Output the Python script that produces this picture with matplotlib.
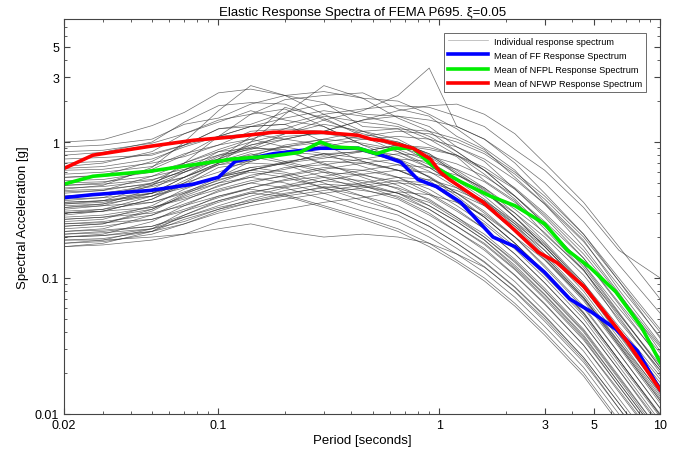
import numpy as np
import matplotlib
matplotlib.use("Agg")
import matplotlib.pyplot as plt
from matplotlib.ticker import FixedLocator, NullFormatter, LogLocator

plt.rcParams['font.family'] = ['Liberation Sans', 'DejaVu Sans']

# periods (s) at which the individual spectra are read
periods = [0.02, 0.03, 0.05, 0.07, 0.1, 0.14, 0.2, 0.3, 0.45, 0.65, 0.9, 1.2, 1.6, 2.2, 3.0, 4.5, 6.5, 10]

# individual response spectra, Sa [g]
c01 = [1.00, 1.04, 1.32, 1.65, 2.30, 2.45, 2.20, 1.95, 1.30, 1.25, 0.95, 0.78, 0.52, 0.37, 0.21, 0.115, 0.048, 0.021]
c02 = [0.92, 0.95, 1.05, 1.35, 1.50, 1.90, 2.20, 2.35, 2.10, 2.00, 1.60, 1.25, 0.90, 0.62, 0.36, 0.19, 0.082, 0.033]
c03 = [0.85, 0.87, 0.98, 1.15, 1.45, 1.60, 2.05, 2.20, 2.30, 1.75, 1.55, 1.10, 0.88, 0.55, 0.35, 0.17, 0.078, 0.029]
c04 = [0.80, 0.84, 1.00, 1.40, 1.85, 1.95, 1.90, 1.45, 1.15, 1.00, 0.82, 0.58, 0.45, 0.28, 0.18, 0.088, 0.040, 0.016]
c05 = [0.75, 0.77, 0.80, 0.95, 1.10, 1.30, 1.35, 1.60, 1.75, 1.85, 1.80, 1.55, 1.30, 0.88, 0.62, 0.33, 0.16, 0.10]
c06 = [0.70, 0.72, 0.82, 0.95, 1.25, 1.35, 1.65, 1.90, 1.60, 1.55, 1.30, 0.92, 0.72, 0.45, 0.28, 0.14, 0.064, 0.025]
c07 = [0.66, 0.70, 0.85, 1.15, 1.40, 1.70, 1.45, 1.30, 0.95, 0.85, 0.68, 0.48, 0.37, 0.24, 0.145, 0.072, 0.033, 0.013]
c08 = [0.62, 0.63, 0.70, 0.78, 0.95, 1.05, 1.25, 1.20, 1.45, 1.55, 1.45, 1.30, 1.05, 0.74, 0.50, 0.26, 0.125, 0.055]
c09 = [0.58, 0.60, 0.66, 0.82, 0.95, 1.20, 1.25, 1.55, 1.40, 1.30, 1.05, 0.80, 0.58, 0.38, 0.23, 0.115, 0.052, 0.020]
c10 = [0.55, 0.57, 0.72, 0.95, 1.25, 1.30, 1.35, 1.00, 0.85, 0.72, 0.55, 0.42, 0.30, 0.20, 0.12, 0.060, 0.028, 0.011]
c11 = [0.52, 0.53, 0.60, 0.70, 0.85, 1.00, 1.15, 1.45, 1.70, 2.20, 3.50, 1.30, 1.05, 0.70, 0.42, 0.21, 0.095, 0.036]
c12 = [0.50, 0.51, 0.56, 0.63, 0.72, 0.85, 0.92, 1.05, 1.20, 1.25, 1.20, 1.05, 0.85, 0.60, 0.40, 0.21, 0.10, 0.042]
c13 = [0.48, 0.50, 0.63, 0.80, 1.10, 1.15, 1.05, 0.95, 0.72, 0.62, 0.50, 0.36, 0.26, 0.17, 0.105, 0.053, 0.024, 0.0095]
c14 = [0.46, 0.47, 0.52, 0.66, 0.75, 0.95, 1.10, 1.15, 1.05, 1.00, 0.82, 0.62, 0.46, 0.30, 0.185, 0.092, 0.041, 0.016]
c15 = [0.44, 0.45, 0.49, 0.55, 0.68, 0.72, 0.85, 0.92, 1.05, 1.10, 1.05, 0.92, 0.75, 0.53, 0.35, 0.185, 0.088, 0.037]
c16 = [0.42, 0.44, 0.56, 0.70, 0.88, 1.05, 0.92, 0.82, 0.66, 0.55, 0.42, 0.32, 0.23, 0.15, 0.092, 0.046, 0.021, 0.0084]
c17 = [0.40, 0.41, 0.47, 0.55, 0.70, 0.78, 0.95, 1.05, 0.98, 0.88, 0.72, 0.54, 0.40, 0.26, 0.16, 0.080, 0.036, 0.014]
c18 = [0.38, 0.39, 0.42, 0.48, 0.55, 0.65, 0.70, 0.82, 0.85, 0.95, 0.91, 0.80, 0.65, 0.46, 0.30, 0.16, 0.076, 0.032]
c19 = [0.37, 0.39, 0.50, 0.62, 0.85, 0.90, 0.88, 0.68, 0.58, 0.48, 0.37, 0.28, 0.20, 0.133, 0.081, 0.041, 0.0185, 0.0074]
c20 = [0.36, 0.37, 0.42, 0.50, 0.60, 0.74, 0.80, 0.95, 0.88, 0.80, 0.65, 0.49, 0.36, 0.23, 0.144, 0.072, 0.032, 0.0126]
c21 = [0.35, 0.37, 0.48, 0.70, 1.10, 1.60, 1.75, 1.30, 0.95, 0.75, 0.55, 0.40, 0.28, 0.18, 0.11, 0.055, 0.025, 0.010]
c22 = [0.34, 0.35, 0.40, 0.48, 0.55, 0.72, 0.85, 0.80, 0.86, 0.75, 0.61, 0.46, 0.34, 0.22, 0.136, 0.068, 0.031, 0.012]
c23 = [0.33, 0.34, 0.36, 0.42, 0.50, 0.55, 0.65, 0.68, 0.75, 0.82, 0.79, 0.69, 0.56, 0.40, 0.26, 0.14, 0.066, 0.028]
c24 = [0.32, 0.34, 0.42, 0.55, 0.70, 0.82, 0.72, 0.62, 0.50, 0.42, 0.32, 0.24, 0.176, 0.115, 0.070, 0.035, 0.016, 0.0064]
c25 = [0.31, 0.32, 0.36, 0.43, 0.52, 0.62, 0.70, 0.82, 0.76, 0.68, 0.56, 0.42, 0.31, 0.20, 0.124, 0.062, 0.028, 0.011]
c26 = [0.30, 0.31, 0.33, 0.38, 0.45, 0.52, 0.56, 0.63, 0.70, 0.75, 0.72, 0.63, 0.51, 0.36, 0.24, 0.126, 0.060, 0.026]
c27 = [0.29, 0.31, 0.38, 0.48, 0.65, 0.70, 0.68, 0.55, 0.45, 0.38, 0.29, 0.22, 0.16, 0.104, 0.064, 0.032, 0.0145, 0.0058]
c28 = [0.28, 0.29, 0.33, 0.39, 0.47, 0.57, 0.63, 0.72, 0.70, 0.62, 0.50, 0.38, 0.28, 0.18, 0.112, 0.056, 0.025, 0.0098]
c29 = [0.27, 0.28, 0.30, 0.34, 0.40, 0.46, 0.52, 0.56, 0.62, 0.68, 0.65, 0.57, 0.46, 0.32, 0.216, 0.113, 0.054, 0.023]
c30 = [0.26, 0.27, 0.34, 0.45, 0.56, 0.65, 0.60, 0.50, 0.40, 0.34, 0.26, 0.195, 0.143, 0.094, 0.057, 0.029, 0.013, 0.0052]
c31 = [0.25, 0.26, 0.29, 0.35, 0.43, 0.50, 0.57, 0.65, 0.62, 0.55, 0.45, 0.34, 0.25, 0.163, 0.10, 0.050, 0.0225, 0.0088]
c32 = [0.25, 0.255, 0.27, 0.31, 0.37, 0.43, 0.47, 0.52, 0.58, 0.62, 0.60, 0.52, 0.42, 0.30, 0.20, 0.105, 0.050, 0.021]
c33 = [0.24, 0.25, 0.31, 0.41, 0.53, 0.60, 0.55, 0.46, 0.37, 0.31, 0.24, 0.18, 0.132, 0.086, 0.053, 0.026, 0.012, 0.0048]
c34 = [0.23, 0.24, 0.27, 0.32, 0.39, 0.46, 0.53, 0.60, 0.57, 0.51, 0.41, 0.31, 0.23, 0.15, 0.092, 0.046, 0.021, 0.008]
c35 = [0.22, 0.225, 0.24, 0.28, 0.33, 0.37, 0.42, 0.46, 0.50, 0.55, 0.53, 0.46, 0.37, 0.26, 0.176, 0.092, 0.044, 0.019]
c36 = [0.22, 0.23, 0.29, 0.37, 0.48, 0.55, 0.50, 0.42, 0.34, 0.29, 0.22, 0.165, 0.121, 0.079, 0.048, 0.024, 0.011, 0.0044]
c37 = [0.21, 0.22, 0.24, 0.29, 0.36, 0.42, 0.48, 0.55, 0.52, 0.46, 0.38, 0.28, 0.21, 0.137, 0.084, 0.042, 0.019, 0.0074]
c38 = [0.20, 0.21, 0.26, 0.34, 0.44, 0.50, 0.46, 0.38, 0.31, 0.26, 0.20, 0.15, 0.11, 0.072, 0.044, 0.022, 0.010, 0.004]
c39 = [0.20, 0.205, 0.22, 0.25, 0.30, 0.34, 0.38, 0.42, 0.46, 0.50, 0.48, 0.42, 0.34, 0.24, 0.16, 0.084, 0.040, 0.017]
c40 = [0.19, 0.195, 0.22, 0.27, 0.32, 0.38, 0.44, 0.49, 0.47, 0.42, 0.34, 0.26, 0.19, 0.124, 0.076, 0.038, 0.017, 0.0067]
c41 = [0.18, 0.19, 0.23, 0.31, 0.40, 0.45, 0.41, 0.34, 0.28, 0.23, 0.18, 0.135, 0.10, 0.065, 0.040, 0.020, 0.009, 0.0036]
c42 = [0.18, 0.185, 0.21, 0.25, 0.31, 0.36, 0.41, 0.47, 0.44, 0.40, 0.32, 0.24, 0.18, 0.117, 0.072, 0.036, 0.016, 0.0063]
c43 = [0.17, 0.175, 0.19, 0.21, 0.26, 0.29, 0.32, 0.36, 0.39, 0.43, 0.41, 0.36, 0.29, 0.20, 0.136, 0.071, 0.034, 0.0145]
c44 = [0.30, 0.31, 0.38, 0.50, 0.70, 1.00, 1.60, 2.60, 2.10, 1.50, 1.20, 0.85, 0.62, 0.40, 0.25, 0.125, 0.056, 0.022]
c45 = [0.45, 0.48, 0.65, 1.00, 1.70, 2.60, 2.20, 1.60, 1.20, 0.95, 0.72, 0.52, 0.38, 0.25, 0.15, 0.075, 0.034, 0.0135]
c46 = [0.19, 0.19, 0.20, 0.21, 0.23, 0.25, 0.22, 0.20, 0.21, 0.20, 0.18, 0.15, 0.12, 0.08, 0.05, 0.025, 0.011, 0.0045]
c47 = [0.55, 0.56, 0.60, 0.68, 0.80, 0.95, 1.05, 1.20, 1.45, 1.70, 1.85, 1.90, 1.60, 1.15, 0.70, 0.36, 0.17, 0.070]
c48 = [0.40, 0.42, 0.48, 0.60, 0.75, 0.90, 1.15, 1.35, 1.20, 1.05, 0.80, 0.60, 0.44, 0.28, 0.17, 0.085, 0.038, 0.015]
c49 = [0.33, 0.35, 0.45, 0.60, 0.78, 0.92, 0.85, 0.70, 0.55, 0.45, 0.34, 0.26, 0.19, 0.12, 0.075, 0.037, 0.017, 0.0068]
c50 = [0.27, 0.28, 0.32, 0.40, 0.50, 0.62, 0.72, 0.78, 0.72, 0.62, 0.52, 0.38, 0.28, 0.18, 0.11, 0.055, 0.025, 0.0098]
c51 = [0.36, 0.37, 0.40, 0.46, 0.55, 0.62, 0.70, 0.76, 0.85, 0.95, 0.88, 0.80, 0.62, 0.45, 0.29, 0.15, 0.072, 0.031]
c52 = [0.64, 0.66, 0.75, 0.92, 1.10, 1.30, 1.50, 1.70, 1.55, 1.35, 1.10, 0.85, 0.62, 0.40, 0.25, 0.12, 0.055, 0.022]
c53 = [0.24, 0.25, 0.32, 0.42, 0.55, 0.62, 0.58, 0.46, 0.40, 0.31, 0.24, 0.18, 0.13, 0.085, 0.052, 0.026, 0.012, 0.0048]
c54 = [0.21, 0.215, 0.23, 0.26, 0.32, 0.36, 0.40, 0.44, 0.48, 0.52, 0.50, 0.44, 0.36, 0.25, 0.17, 0.088, 0.042, 0.018]
c55 = [0.43, 0.44, 0.50, 0.62, 0.80, 0.88, 1.05, 1.20, 1.10, 0.92, 0.78, 0.58, 0.43, 0.28, 0.17, 0.086, 0.039, 0.015]
c56 = [0.30, 0.32, 0.40, 0.52, 0.68, 0.78, 0.70, 0.60, 0.48, 0.39, 0.30, 0.22, 0.165, 0.105, 0.065, 0.032, 0.015, 0.006]
c57 = [0.20, 0.205, 0.23, 0.28, 0.34, 0.40, 0.46, 0.52, 0.48, 0.42, 0.36, 0.27, 0.20, 0.13, 0.08, 0.040, 0.018, 0.007]
c58 = [0.48, 0.49, 0.53, 0.60, 0.72, 0.80, 0.92, 1.00, 1.10, 1.20, 1.15, 1.00, 0.82, 0.58, 0.38, 0.20, 0.095, 0.040]
c59 = [0.35, 0.36, 0.42, 0.55, 0.75, 1.10, 1.80, 1.50, 1.10, 0.85, 0.65, 0.48, 0.35, 0.23, 0.14, 0.070, 0.032, 0.0125]
c60 = [0.17, 0.18, 0.22, 0.29, 0.37, 0.42, 0.40, 0.33, 0.27, 0.22, 0.17, 0.13, 0.095, 0.062, 0.038, 0.019, 0.0085, 0.0034]

records = [c01, c02, c03, c04, c05, c06, c07, c08, c09, c10, c11, c12, c13, c14, c15,
           c16, c17, c18, c19, c20, c21, c22, c23, c24, c25, c26, c27, c28, c29, c30,
           c31, c32, c33, c34, c35, c36, c37, c38, c39, c40, c41, c42, c43, c44, c45,
           c46, c47, c48, c49, c50, c51, c52, c53, c54, c55, c56, c57, c58, c59, c60]

# mean spectra
t_ff = [0.02, 0.027, 0.049, 0.077, 0.1, 0.119, 0.177, 0.29, 0.43, 0.56, 0.67, 0.8, 0.97, 1.25, 1.75, 2.2, 3.0, 3.9, 4.9, 6.3, 7.9, 10]
sa_ff = [0.39, 0.41, 0.44, 0.49, 0.55, 0.72, 0.82, 0.90, 0.90, 0.79, 0.71, 0.53, 0.47, 0.36, 0.20, 0.17, 0.11, 0.070, 0.056, 0.042, 0.029, 0.015]

t_nfpl = [0.02, 0.027, 0.049, 0.077, 0.116, 0.177, 0.234, 0.29, 0.33, 0.43, 0.52, 0.62, 0.76, 0.93, 1.25, 1.7, 2.2, 3.0, 3.8, 4.8, 6.3, 8.2, 10]
sa_nfpl = [0.49, 0.56, 0.61, 0.68, 0.75, 0.79, 0.84, 1.0, 0.92, 0.90, 0.82, 0.90, 0.90, 0.67, 0.51, 0.40, 0.34, 0.25, 0.16, 0.12, 0.079, 0.044, 0.024]

t_nfwp = [0.02, 0.027, 0.049, 0.077, 0.116, 0.177, 0.29, 0.43, 0.49, 0.56, 0.76, 0.91, 1.01, 1.11, 1.58, 2.1, 2.8, 3.4, 4.5, 5.6, 7.1, 10]
sa_nfwp = [0.64, 0.80, 0.93, 1.03, 1.09, 1.18, 1.18, 1.12, 1.05, 1.02, 0.90, 0.75, 0.60, 0.53, 0.36, 0.24, 0.155, 0.13, 0.087, 0.056, 0.034, 0.015]

x_ticks = [0.02, 0.1, 1, 3, 5, 10]
x_labels = ['0.02', '0.1', '1', '3', '5', '10']
y_ticks = [0.01, 0.1, 1, 3, 5]
y_labels = ['0.01', '0.1', '1', '3', '5']


fig = plt.figure(figsize=(6.75, 4.6), dpi=100)
ax = fig.add_axes([0.095, 0.098, 0.883, 0.858])

for i, rec in enumerate(records):
    ax.plot(periods, rec, color='#303030', lw=0.5, alpha=0.7,
            label='Individual response spectrum' if i == 0 else None)

ax.plot(t_ff, sa_ff, color='#0000ff', lw=2.6, label='Mean of FF Response Spectrum')
ax.plot(t_nfpl, sa_nfpl, color='#00ee00', lw=2.6, label='Mean of NFPL Response Spectrum')
ax.plot(t_nfwp, sa_nfwp, color='#ff0000', lw=2.6, label='Mean of NFWP Response Spectrum')

ax.set_xscale('log')
ax.set_yscale('log')
ax.set_xlim(0.02, 10)
ax.set_ylim(0.01, 8)

ax.xaxis.set_major_locator(FixedLocator(x_ticks))
ax.set_xticklabels(x_labels)
ax.yaxis.set_major_locator(FixedLocator(y_ticks))
ax.set_yticklabels(y_labels)
ax.xaxis.set_minor_locator(LogLocator(base=10, subs=np.arange(2, 10)))
ax.yaxis.set_minor_locator(LogLocator(base=10, subs=np.arange(2, 10)))
ax.xaxis.set_minor_formatter(NullFormatter())
ax.yaxis.set_minor_formatter(NullFormatter())
ax.tick_params(which='both', direction='in', top=True, right=True, labelsize=9, color='#444444')
ax.tick_params(which='major', length=4)
ax.tick_params(which='minor', length=2)
for s in ax.spines.values():
    s.set_color('#444444')
    s.set_linewidth(0.8)

ax.set_title('Elastic Response Spectra of FEMA P695. \u03be=0.05', fontsize=9.5, pad=3)
ax.set_xlabel('Period [seconds]', fontsize=9.5, labelpad=2)
ax.set_ylabel('Spectral Acceleration [g]', fontsize=9.5, labelpad=4)

leg = ax.legend(loc='upper right', bbox_to_anchor=(0.984, 0.978), fontsize=6.6,
                frameon=True, fancybox=False, handlelength=4.4, borderpad=0.45,
                labelspacing=0.55, handletextpad=0.6)
leg.get_frame().set_edgecolor('#444444')
leg.get_frame().set_linewidth(0.7)
leg.legend_handles[0].set_color('#888888')

fig.savefig('out.png', dpi=100)
